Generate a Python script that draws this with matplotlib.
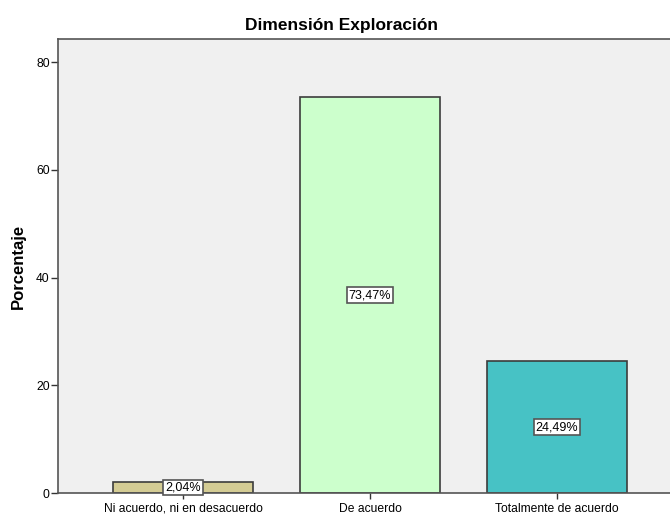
import matplotlib.pyplot as plt

plt.rcParams['font.family'] = ['Liberation Sans', 'DejaVu Sans']

categorias = ['Ni acuerdo, ni en desacuerdo', 'De acuerdo', 'Totalmente de acuerdo']
porcentajes = [2.04, 73.47, 24.49]
etiquetas = ['2,04%', '73,47%', '24,49%']
colores = ['#D4CC94', '#CCFFCC', '#47C2C5']

fig = plt.figure(figsize=(6.7, 5.15), dpi=100)
ax = fig.add_axes([58 / 670, 22 / 515, 1 - 58 / 670, 454 / 515])
ax.set_facecolor('#F0F0F0')

x = range(len(categorias))
ax.bar(x, porcentajes, width=0.75, color=colores, edgecolor='#3C3C3C', linewidth=1.2)

for xi, v, t in zip(x, porcentajes, etiquetas):
    ax.text(xi, v / 2, t, ha='center', va='center', fontsize=9,
            bbox=dict(boxstyle='square,pad=0.15', fc='white', ec='#555555', lw=1.2))

ax.set_xlim(-0.668, 2.604)
ax.set_ylim(0, 84.3)
ax.set_yticks([0, 20, 40, 60, 80])
ax.set_xticks(list(x))
ax.set_xticklabels(categorias, fontsize=8.7)
ax.tick_params(axis='y', labelsize=8.7, length=5, width=1, color='#333333', pad=1)
ax.tick_params(axis='x', length=4, width=1, color='#333333', pad=3)

for s in ['left', 'top', 'bottom']:
    ax.spines[s].set_color('#555555')
    ax.spines[s].set_linewidth(1.2)
ax.spines['right'].set_visible(False)

ax.set_ylabel('Porcentaje', fontsize=12, fontweight='bold', labelpad=7)
fig.text(0.51, 0.951, 'Dimensión Exploración', ha='center', va='center', fontsize=12.5, fontweight='bold')

fig.savefig('out.png', dpi=100)
